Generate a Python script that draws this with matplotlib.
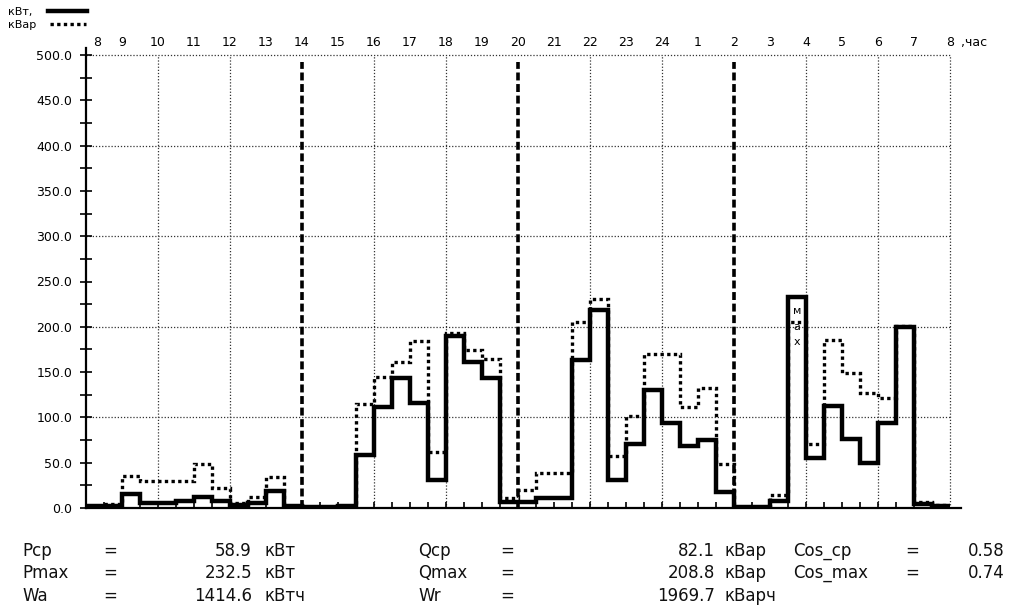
import numpy as np
import matplotlib
matplotlib.use("Agg")
import matplotlib.pyplot as plt

# ---------------- data ----------------
start_hour = 8
step_hours = 0.5
# active power, kW (half-hour values from 8:00 to 8:00 next day)
p_kw = [2, 2, 15, 6, 6, 8, 12, 8, 3, 5, 19, 2, 1, 1, 2, 58,
        112, 143, 116, 31, 190, 161, 143, 7, 7, 11, 11, 163, 219, 31, 71, 130,
        94, 68, 75, 18, 1, 1, 8, 232.5, 55, 113, 76, 50, 94, 200, 4, 2]
# reactive power, kVar
q_kvar = [2, 4, 35, 30, 30, 30, 49, 22, 5, 12, 34, 2, 1, 1, 2, 115,
          145, 161, 184, 62, 193, 174, 164, 11, 20, 39, 39, 205, 231, 57, 101, 170,
          170, 111, 132, 49, 1, 1, 14, 205, 71, 185, 149, 127, 121, 201, 7, 3]
hour_labels = ["8", "9", "10", "11", "12", "13", "14", "15", "16", "17", "18", "19",
               "20", "21", "22", "23", "24", "1", "2", "3", "4", "5", "6", "7", "8"]
shift_hours = [14, 20, 26]
max_index = 39
stats_left = [("Pcp", "58.9", "кВт"), ("Pmax", "232.5", "кВт"), ("Wa", "1414.6", "кВтч")]
stats_mid = [("Qcp", "82.1", "кВар"), ("Qmax", "208.8", "кВар"), ("Wr", "1969.7", "кВарч")]
stats_right = [("Cos_cp", "0.58"), ("Cos_max", "0.74")]

# ---------------- figure ----------------
W, H = 1020, 614
fig = plt.figure(figsize=(W / 100, H / 100), dpi=100)
fig.patch.set_facecolor("white")
ax = fig.add_axes([86 / W, 1 - 508 / H, (950 - 86) / W, (508 - 55) / H])
for s in ax.spines.values():
    s.set_visible(False)

n = len(p_kw)
edges = start_hour + step_hours * np.arange(n + 1)
end_hour = edges[-1]
ax.set_xlim(start_hour, end_hour)
ax.set_ylim(0, 500)

# grid
for y in range(100, 501, 100):
    ax.plot([start_hour, end_hour], [y, y], color="#333333", lw=0.9,
            ls=(0, (1, 1.5)), zorder=1, clip_on=False)
for h in range(start_hour + 2, int(end_hour) + 1, 2):
    if h in shift_hours:
        continue
    ax.plot([h, h], [0, 500], color="#333333", lw=0.9, ls=(0, (1, 1.5)),
            zorder=1, clip_on=False)
for h in shift_hours:
    ax.plot([h, h], [0, 492], color="black", lw=2.6, ls=(0, (2.2, 1.0)), zorder=2)

# axes lines
ax.plot([start_hour, start_hour], [0, 508], color="black", lw=1.6, clip_on=False, zorder=5)
ax.plot([start_hour, end_hour + 0.3], [0, 0], color="black", lw=1.6, clip_on=False, zorder=5)

# data
ax.stairs(q_kvar, edges, baseline=None, color="black", lw=2.4,
          ls=(0, (1, 1)), zorder=3)
ax.stairs(p_kw, edges, baseline=None, color="black", lw=3.2, zorder=4)

# max marker text
xm = edges[max_index] + step_hours / 2
for ch, off in zip(["м", "а", "х"], [-9.5, -21.5, -32.5]):
    ax.annotate(ch, xy=(xm, p_kw[max_index]), xytext=(0, off),
                textcoords="offset points", ha="center", va="center",
                fontsize=8, zorder=6)

# y ticks
ax.set_yticks(np.arange(0, 501, 50))
ax.set_yticklabels([f"{v:.1f}" for v in np.arange(0, 501, 50)], fontsize=9)
ax.set_yticks(np.arange(0, 501, 25), minor=True)
ax.tick_params(axis="y", which="both", direction="inout", length=8, width=1.2, pad=6)

# x ticks (bottom, every half hour)
ax.set_xticks(edges[1:-1])
ax.tick_params(axis="x", which="both", direction="in", length=4, width=1.2,
               labelbottom=False)

# hour labels above
for i, lab in enumerate(hour_labels):
    hx = start_hour + i + (0.3 if i == 0 else 0)
    ax.annotate(lab, xy=(hx, 500), xytext=(0, 4), textcoords="offset points",
                ha="center", va="bottom", fontsize=9)
ax.annotate(",час", xy=(end_hour, 500), xytext=(8, 4), textcoords="offset points",
            ha="left", va="bottom", fontsize=9)

# legend at top-left
fig.text(8 / W, 1 - 12 / H, "кВт,", fontsize=8, va="center", ha="left")
fig.text(8 / W, 1 - 25 / H, "кВар", fontsize=8, va="center", ha="left")
fig.add_artist(plt.Line2D([48 / W, 87 / W], [1 - 11 / H, 1 - 11 / H], color="black", lw=3.2))
fig.add_artist(plt.Line2D([50 / W, 86 / W], [1 - 24 / H, 1 - 24 / H], color="black",
                          lw=2.4, ls=(0, (1, 1))))

# statistics block
rows_y = [551, 573, 596]
fs = 12
col = "#111111"
for (lab, val, unit), y in zip(stats_left, rows_y):
    fig.text(22 / W, 1 - y / H, lab, fontsize=fs, va="center", ha="left", color=col)
    fig.text(103 / W, 1 - y / H, "=", fontsize=fs, va="center", ha="left", color=col)
    fig.text(252 / W, 1 - y / H, val, fontsize=fs, va="center", ha="right", color=col)
    fig.text(265 / W, 1 - y / H, unit, fontsize=fs, va="center", ha="left", color=col)
for (lab, val, unit), y in zip(stats_mid, rows_y):
    fig.text(418 / W, 1 - y / H, lab, fontsize=fs, va="center", ha="left", color=col)
    fig.text(500 / W, 1 - y / H, "=", fontsize=fs, va="center", ha="left", color=col)
    fig.text(715 / W, 1 - y / H, val, fontsize=fs, va="center", ha="right", color=col)
    fig.text(725 / W, 1 - y / H, unit, fontsize=fs, va="center", ha="left", color=col)
for (lab, val), y in zip(stats_right, rows_y):
    fig.text(793 / W, 1 - y / H, lab, fontsize=fs, va="center", ha="left", color=col)
    fig.text(905 / W, 1 - y / H, "=", fontsize=fs, va="center", ha="left", color=col)
    fig.text(1005 / W, 1 - y / H, val, fontsize=fs, va="center", ha="right", color=col)

fig.savefig("out.png", dpi=100, facecolor="white")
